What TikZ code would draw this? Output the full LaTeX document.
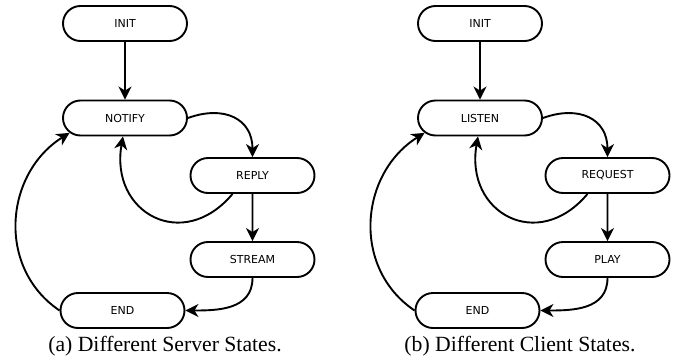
\documentclass[tikz,border=0pt]{standalone}
\usepackage{fontspec}
\setmainfont{Liberation Serif}
\newfontfamily\statefont{DejaVu Sans}
\usetikzlibrary{shapes.misc,arrows.meta}

\tikzset{
  statebox/.style={draw, rounded rectangle, line width=1.9pt,
    minimum width=124pt, minimum height=35pt, inner sep=0pt,
    font=\statefont\fontsize{11}{13}\selectfont},
  trans/.style={line width=1.9pt, -{Stealth[length=13pt,width=13pt,inset=4pt]}},
  subcaption/.style={font=\fontsize{21.7}{26}\selectfont},
}

\begin{document}
\begin{tikzpicture}[x=1pt, y=1pt]
      \useasboundingbox (0,0) rectangle (678,-362);
      % server on the left, client on the right
      \foreach \p/\dx/\sa/\sb/\sc/\subcap in {%
          s/0/NOTIFY/REPLY/STREAM/{(a) Different Server States.},
          c/355/LISTEN/REQUEST/PLAY/{(b) Different Client States.}} {
        \begin{scope}[xshift=\dx]
          \node[statebox] (\p init) at (125,-23.5) {INIT};
          \node[statebox] (\p two) at (125,-118) {\sa};
          \node[statebox] (\p three) at (252.5,-175.5) {\sb};
          \node[statebox] (\p four) at (252.5,-259.5) {\sc};
          \node[statebox] (\p end) at (122.5,-310.5) {END};
          \node[subcaption] (\p cap) at (165,-346) {\subcap};

          \draw[trans] (\p init) -- (\p two);
          \draw[trans] (\p two.east) to[out=20, in=90, looseness=1.3] (\p three.north);
          \draw[trans] ([xshift=-20pt]\p three.south) to[out=-130, in=-100, looseness=1.6] ([xshift=-2pt]\p two.south);
          \draw[trans] (\p three) -- (\p four);
          \draw[trans] (\p four.south) to[out=-90, in=0, looseness=1.1] (\p end.east);
          \draw[trans] (\p end.west) to[out=146, in=-148, looseness=1.1] (\p two.-165);
        \end{scope}
      }
\end{tikzpicture}
\end{document}
